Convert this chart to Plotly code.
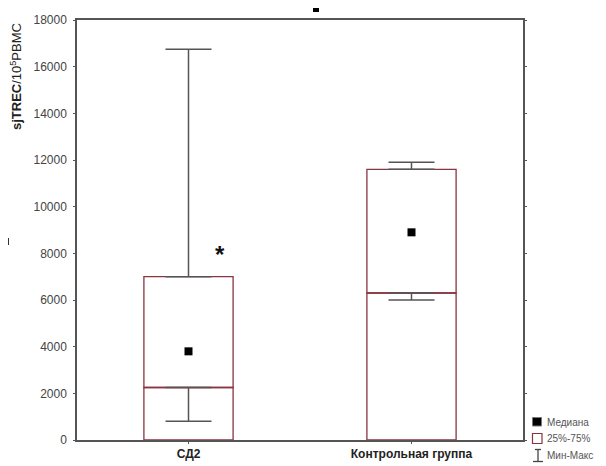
import plotly.graph_objects as go

# ---- data ----
categories = ["СД2", "Контрольная группа"]
q1 = [2250, 6300]
q3 = [7000, 11600]
medians = [3800, 8900]
mins = [800, 6000]
maxs = [16750, 11900]
y_ticks = [0, 2000, 4000, 6000, 8000, 10000, 12000, 14000, 16000, 18000]
legend_labels = ["Медиана", "25%-75%", "Мин-Макс"]
star_value = 7950

BOX_COLOR = "#8a3440"
WHISK_COLOR = "#555555"
FONT = "Liberation Sans"

# page body has an 8px default margin; work in screenshot pixels, convert
OFF = 8
W, H = 606 - OFF, 466 - OFF
# plot area in screenshot pixels: x 77..523, y 20..440
L = 77 - OFF
R = W - (523 - OFF)
T = 20 - OFF
B = H - (440 - OFF)
pw, ph = W - L - R, H - T - B

xs = [0, 1]

fig = go.Figure()

# lower part of box (0..q1)
fig.add_trace(go.Bar(x=xs, y=q1, base=[0, 0], width=0.4,
                     marker=dict(color="rgba(255,255,255,0)",
                                 line=dict(color=BOX_COLOR, width=1.3)),
                     showlegend=False, hoverinfo="skip"))
# upper part of box (q1..q3)
fig.add_trace(go.Bar(x=xs, y=[b - a for a, b in zip(q1, q3)], base=q1, width=0.4,
                     marker=dict(color="rgba(255,255,255,0)",
                                 line=dict(color=BOX_COLOR, width=1.3)),
                     showlegend=False, hoverinfo="skip"))

# upper whisker
fig.add_trace(go.Scatter(x=xs, y=q3, mode="markers", marker=dict(size=1, opacity=0),
                         error_y=dict(type="data", symmetric=False,
                                      array=[m - q for m, q in zip(maxs, q3)],
                                      arrayminus=[0, 0], color=WHISK_COLOR,
                                      thickness=1.5, width=23),
                         showlegend=False, hoverinfo="skip"))
# lower whisker
fig.add_trace(go.Scatter(x=xs, y=q1, mode="markers", marker=dict(size=1, opacity=0),
                         error_y=dict(type="data", symmetric=False,
                                      array=[0, 0],
                                      arrayminus=[q - m for m, q in zip(mins, q1)],
                                      color=WHISK_COLOR, thickness=1.5, width=23),
                         showlegend=False, hoverinfo="skip"))
# median
fig.add_trace(go.Scatter(x=xs, y=medians, mode="markers",
                         marker=dict(symbol="square", size=8, color="black"),
                         showlegend=False, hoverinfo="skip"))

fig.update_layout(
    width=W, height=H,
    margin=dict(l=L, r=R, t=T, b=B, autoexpand=False),
    paper_bgcolor="white", plot_bgcolor="white",
    barmode="overlay",
    font=dict(family=FONT, color="#333"),
    xaxis=dict(range=[-0.5, 1.5], tickmode="array", tickvals=xs,
               ticktext=["<b>%s</b>" % c for c in categories],
               tickfont=dict(size=12, color="#222", family=FONT),
               ticks="outside", ticklen=2, tickcolor="#555",
               showline=True, linecolor="#555", linewidth=1.5, mirror=True,
               showgrid=False, zeroline=False, automargin=False),
    yaxis=dict(range=[0, 18000], tickmode="array", tickvals=y_ticks,
               ticktext=[str(v) for v in y_ticks],
               tickfont=dict(size=12, color="#444", family=FONT),
               ticks="outside", ticklen=2, tickcolor="#555",
               ticklabelstandoff=4,
               showline=True, linecolor="#555", linewidth=1.5, mirror="ticks",
               showgrid=False, zeroline=False, automargin=False),
)


def px(xs_):
    return (xs_ - OFF - L) / pw


def py(ys_):
    return (H - B - (ys_ - OFF)) / ph


# asterisk
fig.add_annotation(x=0.14, y=star_value, xref="x", yref="y", text="<b>*</b>",
                   showarrow=False, font=dict(size=24, color="#111", family=FONT))

# y-axis title
fig.add_annotation(x=px(16), y=py(77), xref="paper", yref="paper",
                   xanchor="center", yanchor="middle",
                   text="<b>sjTREC</b>/10<sup>5</sup>PBMC", textangle=-90,
                   showarrow=False, font=dict(size=13, color="#222", family=FONT))

# legend (custom)
leg_y = [422, 438, 455]
for lab, yy in zip(legend_labels, leg_y):
    fig.add_annotation(x=px(545), y=py(yy), xref="paper", yref="paper", text=lab,
                       xanchor="left", yanchor="middle", showarrow=False,
                       font=dict(size=10, color="#555", family=FONT))
# legend glyphs
fig.add_shape(type="rect", xref="paper", yref="paper",
              x0=px(532.5), x1=px(541.5), y0=py(426), y1=py(417.5),
              fillcolor="black", line=dict(color="#777", width=1))
fig.add_shape(type="rect", xref="paper", yref="paper",
              x0=px(532.5), x1=px(542), y0=py(443.5), y1=py(433.5),
              fillcolor="white", line=dict(color=BOX_COLOR, width=1.2))
fig.add_shape(type="line", xref="paper", yref="paper",
              x0=px(538), x1=px(538), y0=py(461.5), y1=py(449.5),
              line=dict(color="#444", width=1.3))
fig.add_shape(type="line", xref="paper", yref="paper",
              x0=px(533), x1=px(543), y0=py(461.5), y1=py(461.5),
              line=dict(color="#444", width=1.3))
fig.add_shape(type="line", xref="paper", yref="paper",
              x0=px(535), x1=px(541), y0=py(449.5), y1=py(449.5),
              line=dict(color="#444", width=1.3))

# stray marks from the scan
fig.add_shape(type="rect", xref="paper", yref="paper",
              x0=px(313), x1=px(319), y0=py(12), y1=py(8),
              fillcolor="black", line=dict(width=0))
fig.add_shape(type="rect", xref="paper", yref="paper",
              x0=px(7.5), x1=px(9), y0=py(245), y1=py(238),
              fillcolor="#333", line=dict(width=0))

fig.write_html("out.html")
